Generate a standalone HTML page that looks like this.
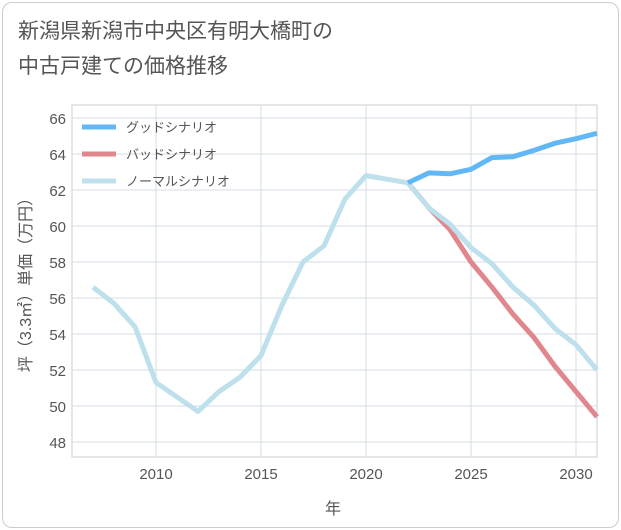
<!DOCTYPE html>
<html><head><meta charset="utf-8"><style>
body{margin:0;background:#fff;}
#card{position:absolute;left:2px;top:2px;width:615px;height:524px;border:1px solid #ccc;border-radius:10px;background:#fff;}
.t{font-family:"Liberation Sans","Noto Sans CJK JP",sans-serif;}
</style></head><body>
<div id="card"></div>
<div class="t" style="position:absolute;left:18px;top:14px;font-size:21px;line-height:35px;color:#555;">新潟県新潟市中央区有明大橋町の<br>中古戸建ての価格推移</div>
<svg id="c" width="621" height="530" style="position:absolute;left:0;top:0"></svg>
<script>
const years=[2007,2008,2009,2010,2011,2012,2013,2014,2015,2016,2017,2018,2019,2020,2021,2022,2023,2024,2025,2026,2027,2028,2029,2030,2031];
const normal=[56.6,55.7,54.4,51.3,50.5,49.7,50.8,51.6,52.8,55.6,58.0,58.9,61.5,62.8,62.6,62.4,61.0,60.1,58.8,57.9,56.6,55.6,54.3,53.4,52.0];
const goodYears=[2022,2023,2024,2025,2026,2027,2028,2029,2030,2031];
const good=[62.4,62.95,62.9,63.15,63.8,63.85,64.2,64.6,64.85,65.15];
const bad=[62.4,61.0,59.8,58.0,56.6,55.1,53.8,52.2,50.8,49.4];
const xTicks=[2010,2015,2020,2025,2030];
const yTicks=[48,50,52,54,56,58,60,62,64,66];
const L=72,R=597,T=105,B=457;
const x=v=>L+(v-2006)*(R-L)/25;
const y=v=>118+(66-v)*18;
const svg=document.getElementById('c');const NS='http://www.w3.org/2000/svg';
function mk(t,a,p){const e=document.createElementNS(NS,t);for(const k in a)e.setAttribute(k,a[k]);(p||svg).appendChild(e);return e;}
let e=mk('rect',{x:L,y:T,width:R-L,height:B-T,fill:'#fff',stroke:'#ccc'});


xTicks.forEach(v=>{mk('line',{x1:x(v),x2:x(v),y1:T,y2:B,stroke:'#d5dde6'});
const t=mk('text',{x:x(v),y:B+22,'text-anchor':'middle','font-size':15,fill:'#555',class:'t'});t.textContent=v;

});
yTicks.forEach(v=>{mk('line',{x1:L,x2:R,y1:y(v),y2:y(v),stroke:'#d5dde6'});
const t=mk('text',{x:L-6,y:y(v)+6,'text-anchor':'end','font-size':15,fill:'#555',class:'t'});t.textContent=v;

});
function line(xs,ys,col,name){const p=mk('polyline',{points:xs.map((v,i)=>x(v)+','+y(ys[i])).join(' '),fill:'none',stroke:col,'stroke-width':5,'stroke-linejoin':'round'});

}
line(goodYears,bad,'#e0868d','line-bad');
line(years,normal,'#bde0ec','line-normal');
line(goodYears,good,'#62b8f6','line-good');
const leg=[['グッドシナリオ','#62b8f6'],['バッドシナリオ','#e0868d'],['ノーマルシナリオ','#bde0ec']];
leg.forEach((l,i)=>{const g=mk('g',{});


mk('line',{x1:82,x2:116,y1:127+i*27,y2:127+i*27,stroke:l[1],'stroke-width':5},g);
const t=mk('text',{x:126,y:132+i*27,'font-size':13,fill:'#555',class:'t'},g);t.textContent=l[0];});
let t=mk('text',{x:333,y:514,'text-anchor':'middle','font-size':16,fill:'#555',class:'t'});t.textContent='年';


t=mk('text',{x:0,y:0,'text-anchor':'middle','font-size':16,fill:'#555',class:'t',transform:'translate(31,281) rotate(-90)'});t.textContent='坪（3.3㎡）単価（万円）';


</script>
</body></html>
